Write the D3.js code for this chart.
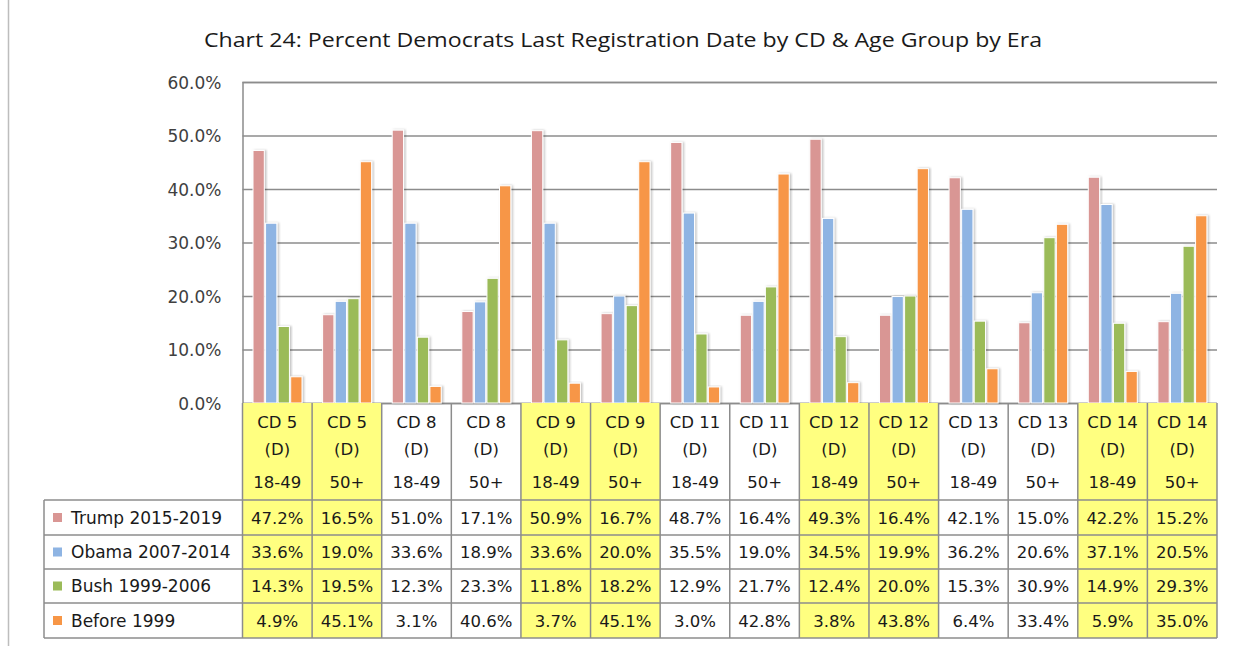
<!DOCTYPE html>
<html>
<head>
<meta charset="utf-8">
<script src="https://cdnjs.cloudflare.com/ajax/libs/d3/7.8.5/d3.min.js"></script>
<style>
  body { margin: 0; background: #fff; }
  svg { display: block; }
  text { font-family: "DejaVu Sans", Verdana, sans-serif; fill: #1a1a1a; }
</style>
</head>
<body>
<svg id="chart" width="1236" height="646"></svg>
<script>
// data
var cdNames = ["CD 5","CD 5","CD 8","CD 8","CD 9","CD 9","CD 11","CD 11","CD 12","CD 12","CD 13","CD 13","CD 14","CD 14"];
var ageGroups = ["18-49","50+","18-49","50+","18-49","50+","18-49","50+","18-49","50+","18-49","50+","18-49","50+"];
var highlighted = [1,1,0,0,1,1,0,0,1,1,0,0,1,1];
var seriesNames = ["Trump 2015-2019","Obama 2007-2014","Bush 1999-2006","Before 1999"];
var trump  = [47.2,16.5,51.0,17.1,50.9,16.7,48.7,16.4,49.3,16.4,42.1,15.0,42.2,15.2];
var obama  = [33.6,19.0,33.6,18.9,33.6,20.0,35.5,19.0,34.5,19.9,36.2,20.6,37.1,20.5];
var bush   = [14.3,19.5,12.3,23.3,11.8,18.2,12.9,21.7,12.4,20.0,15.3,30.9,14.9,29.3];
var before = [4.9,45.1,3.1,40.6,3.7,45.1,3.0,42.8,3.8,43.8,6.4,33.4,5.9,35.0];
var yTicks = [0,10,20,30,40,50,60];

var seriesValues = [trump, obama, bush, before];
var colors = ["#D99694","#8EB4E3","#9BBB59","#F79646"];
var yellow = "#FFFF80";
var gridColor = "#8c8c8c";
var fs = "16.5px";

var svg = d3.select("#chart");
var plotLeft = 242.5, plotRight = 1217, plotTop = 82, plotBottom = 403;
var tableLeft = 44;
var rowEdges = [500, 535, 569, 603, 638];

var idx = d3.range(cdNames.length);
var x0 = d3.scaleBand().domain(idx).range([plotLeft, plotRight]);
var x1 = d3.scaleBand().domain(d3.range(4)).range([10.5, 59.5]).paddingInner(0.1);
var y = d3.scaleLinear().domain([0, 60]).range([plotBottom, plotTop]);

// shadow for bars
var defs = svg.append("defs");
var f = defs.append("filter").attr("id", "shadow").attr("x", "-30%").attr("y", "-10%").attr("width", "160%").attr("height", "120%");
f.append("feDropShadow").attr("dx", 1.5).attr("dy", 0).attr("stdDeviation", 1).attr("flood-color", "#000").attr("flood-opacity", 0.25);

// outer chart border on left
svg.append("line").attr("x1", 8.5).attr("x2", 8.5).attr("y1", 0).attr("y2", 646)
  .attr("stroke", "#bdbdbd").attr("stroke-width", 1.5);

// title
svg.append("text")
  .attr("x", 623).attr("y", 47)
  .attr("text-anchor", "middle")
  .style("font-family", "'Open Sans', sans-serif")
  .style("font-size", "20px")
  .attr("textLength", 838)
  .attr("lengthAdjust", "spacingAndGlyphs")
  .text("Chart 24: Percent Democrats Last Registration Date by CD & Age Group by Era");

// gridlines
var yAxis = d3.axisLeft(y).tickValues(yTicks).tickSize(-(plotRight - plotLeft)).tickFormat(function(d){ return d.toFixed(1) + "%"; });
var ga = svg.append("g").attr("transform", "translate(" + plotLeft + ",0)").call(yAxis);
ga.select(".domain").attr("stroke", gridColor).attr("stroke-width", 1.5);
ga.selectAll(".tick line").attr("stroke", gridColor).attr("stroke-width", 1.5);
ga.selectAll(".tick text").attr("x", -21).attr("dy", "0.36em").style("font-size", "17px").style("fill", "#404040")
  .style("font-family", "'DejaVu Sans', sans-serif");

// bars
var groups = svg.append("g").selectAll("g.grp")
  .data(idx).enter().append("g")
  .attr("class", "grp")
  .attr("transform", function(d){ return "translate(" + x0(d) + ",0)"; });

groups.selectAll("rect")
  .data(function(i){ return seriesValues.map(function(s, k){ return {k: k, v: s[i]}; }); })
  .enter().append("rect")
  .attr("x", function(d){ return x1(d.k); })
  .attr("width", x1.bandwidth())
  .attr("y", function(d){ return y(d.v); })
  .attr("height", function(d){ return y(0) - y(d.v); })
  .attr("fill", function(d){ return colors[d.k]; })
  .attr("stroke", "#fff").attr("stroke-width", 1)
  .attr("filter", "url(#shadow)");

// data table
var table = svg.append("g");
var colW = x0.bandwidth();

// yellow fills
idx.forEach(function(i){
  if (highlighted[i]) {
    table.append("rect").attr("x", x0(i)).attr("y", plotBottom)
      .attr("width", colW).attr("height", rowEdges[4] - plotBottom)
      .attr("fill", yellow);
  }
});

// header labels
var hdr = table.selectAll("g.hdr").data(idx).enter().append("g").attr("class", "hdr")
  .attr("transform", function(i){ return "translate(" + (x0(i) + colW / 2) + ",0)"; });
hdr.append("text").attr("y", 428).attr("text-anchor", "middle").style("font-size", fs).text(function(i){ return cdNames[i]; });
hdr.append("text").attr("y", 455).attr("text-anchor", "middle").style("font-size", fs).text("(D)");
hdr.append("text").attr("y", 488).attr("text-anchor", "middle").style("font-size", fs).text(function(i){ return ageGroups[i]; });

// row values
seriesValues.forEach(function(s, k){
  var cy = (rowEdges[k] + rowEdges[k + 1]) / 2;
  table.selectAll("text.v" + k).data(idx).enter().append("text")
    .attr("class", "v" + k)
    .attr("x", function(i){ return x0(i) + colW / 2; })
    .attr("y", cy + 6)
    .attr("text-anchor", "middle")
    .style("font-size", fs)
    .text(function(i){ return s[i].toFixed(1) + "%"; });
  // legend entry
  table.append("rect").attr("x", 53).attr("y", cy - 4.5).attr("width", 9).attr("height", 9).attr("fill", colors[k]);
  table.append("text").attr("x", 71).attr("y", cy + 6).style("font-size", "17px").text(seriesNames[k]);
});

// table lines
var lc = gridColor;
rowEdges.forEach(function(yy){
  table.append("line").attr("x1", tableLeft).attr("x2", plotRight).attr("y1", yy).attr("y2", yy)
    .attr("stroke", lc).attr("stroke-width", 1.5);
});
table.append("line").attr("x1", tableLeft).attr("x2", tableLeft).attr("y1", rowEdges[0]).attr("y2", rowEdges[4])
  .attr("stroke", lc).attr("stroke-width", 1.5);
idx.concat([idx.length]).forEach(function(i){
  var xx = i < idx.length ? x0(i) : plotRight;
  table.append("line").attr("x1", xx).attr("x2", xx).attr("y1", plotBottom).attr("y2", rowEdges[4])
    .attr("stroke", lc).attr("stroke-width", 1.5);
});
</script>
</body>
</html>
